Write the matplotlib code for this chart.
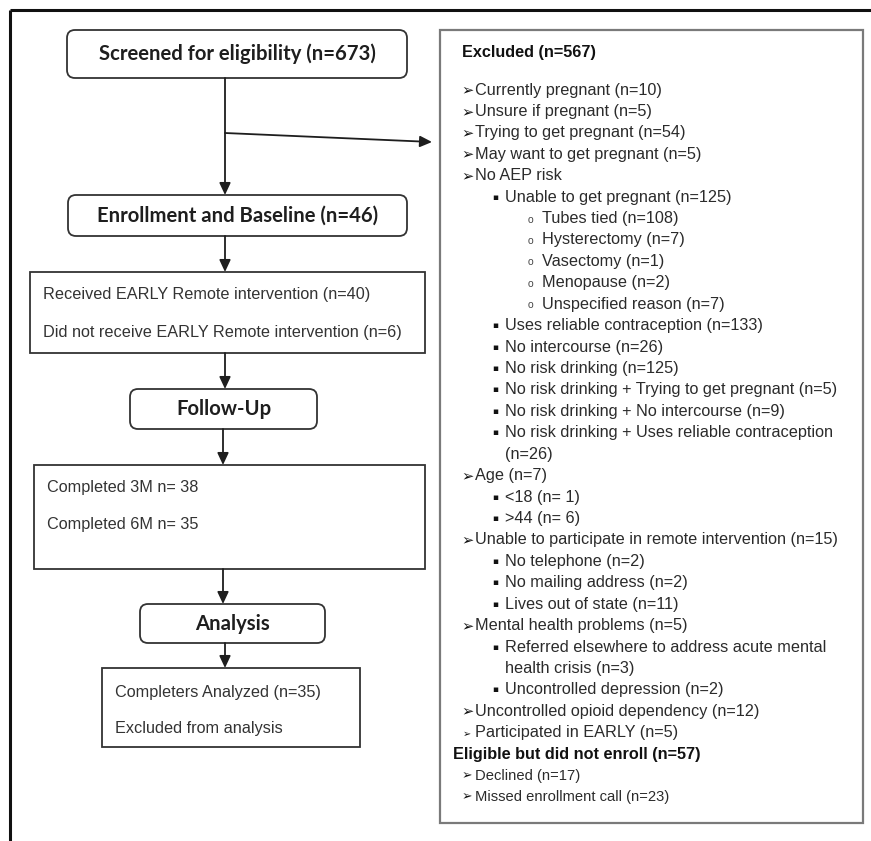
"""Participant flow diagram (screening -> analysis) with exclusion list."""

import matplotlib
matplotlib.use("Agg")
import matplotlib.pyplot as plt
from matplotlib.patches import FancyBboxPatch, Rectangle

# ---------- content --------------------------------------------------------
STAGE_TITLES = ["Screened for eligibility (n=673)",
                "Enrollment and Baseline (n=46)",
                "Follow-Up",
                "Analysis"]
ENROLL_LINES = ["Received EARLY Remote intervention (n=40)",
                "Did not receive EARLY Remote intervention (n=6)"]
FOLLOWUP_LINES = ["Completed 3M n= 38", "Completed 6M n= 35"]
ANALYSIS_LINES = ["Completers Analyzed (n=35)", "Excluded from analysis"]

EXCLUDED_TITLE = "Excluded (n=567)"
# (kind, text): arrow = ➢ item, square = ▪ sub-item, circle = o sub-sub-item,
# cont = wrapped continuation, head = bold heading, small = small ➢ item
EXCLUDED_ROWS = [
    ("arrow", "Currently pregnant (n=10)"),
    ("arrow", "Unsure if pregnant (n=5)"),
    ("arrow", "Trying to get pregnant (n=54)"),
    ("arrow", "May want to get pregnant (n=5)"),
    ("arrow", "No AEP risk"),
    ("square", "Unable to get pregnant (n=125)"),
    ("circle", "Tubes tied (n=108)"),
    ("circle", "Hysterectomy (n=7)"),
    ("circle", "Vasectomy (n=1)"),
    ("circle", "Menopause (n=2)"),
    ("circle", "Unspecified reason (n=7)"),
    ("square", "Uses reliable contraception (n=133)"),
    ("square", "No intercourse (n=26)"),
    ("square", "No risk drinking (n=125)"),
    ("square", "No risk drinking + Trying to get pregnant (n=5)"),
    ("square", "No risk drinking + No intercourse (n=9)"),
    ("square", "No risk drinking + Uses reliable contraception"),
    ("cont", "(n=26)"),
    ("arrow", "Age (n=7)"),
    ("square", "<18 (n= 1)"),
    ("square", ">44 (n= 6)"),
    ("arrow", "Unable to participate in remote intervention (n=15)"),
    ("square", "No telephone (n=2)"),
    ("square", "No mailing address (n=2)"),
    ("square", "Lives out of state (n=11)"),
    ("arrow", "Mental health problems (n=5)"),
    ("square", "Referred elsewhere to address acute mental"),
    ("cont", "health crisis (n=3)"),
    ("square", "Uncontrolled depression (n=2)"),
    ("arrow", "Uncontrolled opioid dependency (n=12)"),
    ("smallarrow", "Participated in EARLY (n=5)"),
    ("head", "Eligible but did not enroll (n=57)"),
    ("small", "Declined (n=17)"),
    ("small", "Missed enrollment call (n=23)"),
]

# ---------- style ----------------------------------------------------------
W, H = 871, 841
INK = "#1e1e1e"
TXT = "#2b2b2b"
BODY = ["Liberation Sans", "DejaVu Sans"]
SYM = ["DejaVu Sans"]
HEAD = ["Lato", "DejaVu Sans"]
FS = 11.7


def rounded(ax, x0, y0, x1, y1, text):
    ax.add_patch(FancyBboxPatch((x0, y0), x1 - x0, y1 - y0,
                                boxstyle="round,pad=0,rounding_size=8",
                                fc="white", ec="#333333", lw=1.3))
    ax.text((x0 + x1) / 2, (y0 + y1) / 2, text, ha="center", va="center",
            family=HEAD, weight="bold", fontsize=14.6, color=INK)


def plain(ax, x0, y0, x1, y1, lines, tx, ys):
    ax.add_patch(Rectangle((x0, y0), x1 - x0, y1 - y0,
                           fc="white", ec="#333333", lw=1.3))
    for line, y in zip(lines, ys):
        ax.text(tx, y, line, ha="left", va="center", family=BODY,
                fontsize=FS, color="#333333")


def arrow(ax, x0, y0, x1, y1):
    ax.annotate("", xy=(x1, y1), xytext=(x0, y0),
                arrowprops=dict(arrowstyle="-|>,head_length=0.6,head_width=0.28",
                                lw=1.3, color=INK, shrinkA=0, shrinkB=0,
                                mutation_scale=12))


def bullet(ax, x, y, glyph, size):
    ax.text(x, y, glyph, ha="left", va="center", family=SYM,
            fontsize=size, color="#111111", weight="bold")


def main() -> None:
    fig = plt.figure(figsize=(W / 100, H / 100), dpi=100)
    ax = fig.add_axes([0, 0, 1, 1])
    ax.set_xlim(0, W)
    ax.set_ylim(H, 0)
    ax.axis("off")

    # outer frame (top and left edges only)
    ax.plot([10, W], [10, 10], color="#111111", lw=2.2, solid_capstyle="butt")
    ax.plot([10, 10], [10, H], color="#111111", lw=2.2, solid_capstyle="butt")

    # left column
    rounded(ax, 67, 30, 407, 78, STAGE_TITLES[0])
    arrow(ax, 225, 78, 225, 195)
    arrow(ax, 225, 133, 432, 142)
    rounded(ax, 68, 195, 407, 236, STAGE_TITLES[1])
    arrow(ax, 225, 236, 225, 272)
    plain(ax, 30, 272, 425, 353, ENROLL_LINES, 43, [295, 332])
    arrow(ax, 225, 353, 225, 389)
    rounded(ax, 130, 389, 317, 429, STAGE_TITLES[2])
    arrow(ax, 223, 429, 223, 465)
    plain(ax, 34, 465, 425, 569, FOLLOWUP_LINES, 47, [487, 525])
    arrow(ax, 223, 569, 223, 604)
    rounded(ax, 140, 604, 325, 643, STAGE_TITLES[3])
    arrow(ax, 225, 643, 225, 668)
    plain(ax, 102, 668, 360, 747, ANALYSIS_LINES, 115, [692, 728])

    # right exclusion box
    ax.add_patch(Rectangle((440, 30), 423, 793, fc="white",
                           ec="#7a7a7a", lw=1.6))
    ax.text(462, 52, EXCLUDED_TITLE, ha="left", va="center", family=BODY,
            weight="bold", fontsize=FS, color="#111111")
    step = (797 - 90) / (len(EXCLUDED_ROWS) - 1)
    for i, (kind, text) in enumerate(EXCLUDED_ROWS):
        y = 90 + i * step
        if kind == "arrow":
            bullet(ax, 461, y, "\u27a2", 10.5)
            ax.text(475, y, text, ha="left", va="center", family=BODY,
                    fontsize=FS, color=TXT)
        elif kind == "smallarrow":
            bullet(ax, 463, y + 1, "\u27a2", 7)
            ax.text(475, y, text, ha="left", va="center", family=BODY,
                    fontsize=FS, color=TXT)
        elif kind == "square":
            ax.text(492, y, "\u25aa", ha="left", va="center", family=SYM,
                    fontsize=6.5, color="#111111")
            ax.text(505, y, text, ha="left", va="center", family=BODY,
                    fontsize=FS, color=TXT)
        elif kind == "circle":
            ax.text(528, y + 1, "o", ha="left", va="center", family=BODY,
                    fontsize=7.5, color="#444444")
            ax.text(542, y, text, ha="left", va="center", family=BODY,
                    fontsize=FS, color=TXT)
        elif kind == "cont":
            ax.text(505, y, text, ha="left", va="center", family=BODY,
                    fontsize=FS, color=TXT)
        elif kind == "head":
            ax.text(453, y, text, ha="left", va="center", family=BODY,
                    weight="bold", fontsize=FS, color="#111111")
        elif kind == "small":
            bullet(ax, 462, y, "\u27a2", 9)
            ax.text(475, y, text, ha="left", va="center", family=BODY,
                    fontsize=10.6, color=TXT)

    fig.savefig("out.png", dpi=100, facecolor="white")
    plt.close(fig)


if __name__ == "__main__":
    main()
